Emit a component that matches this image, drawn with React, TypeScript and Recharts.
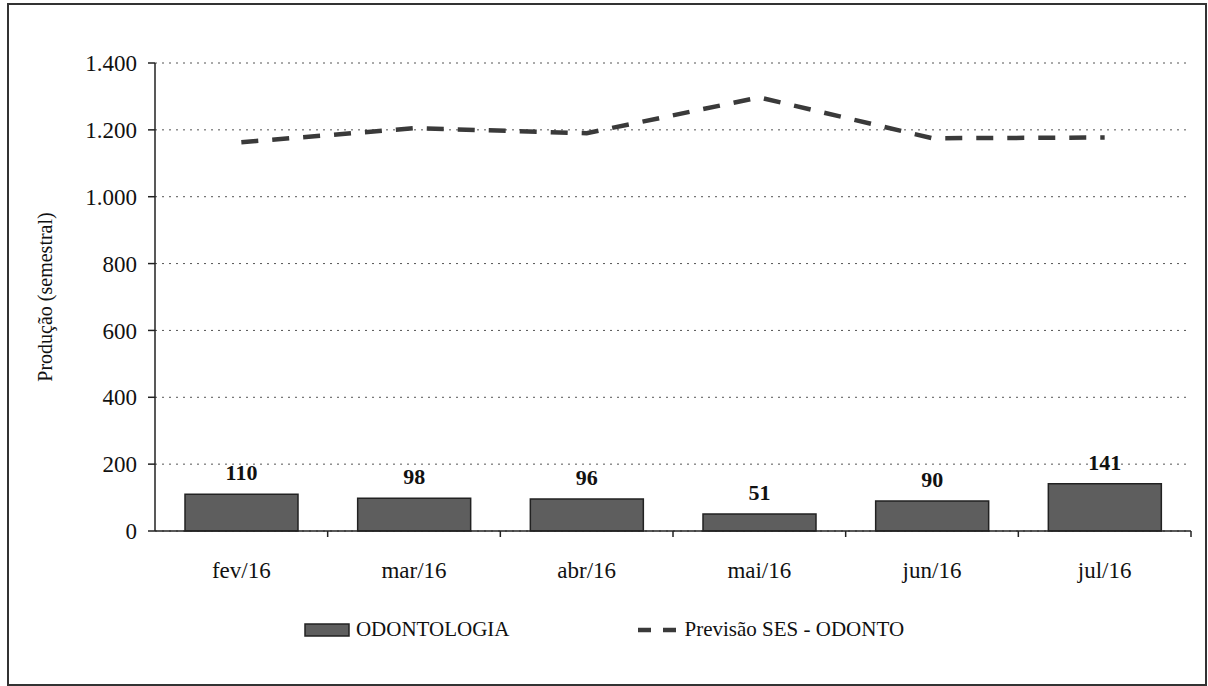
import React from 'react';
import {
  ComposedChart,
  Bar,
  Line,
  XAxis,
  YAxis,
  CartesianGrid,
  Legend,
  LabelList,
} from 'recharts';

const months = ['fev/16', 'mar/16', 'abr/16', 'mai/16', 'jun/16', 'jul/16'];
const odontologia = [110, 98, 96, 51, 90, 141];
const previsao = [1163, 1205, 1190, 1297, 1175, 1177];
const yTicks = [0, 200, 400, 600, 800, 1000, 1200, 1400];

const data = months.map((m, i) => ({
  month: m,
  odontologia: odontologia[i],
  previsao: previsao[i],
}));

const W = 1208;
const H = 686;
const margin = { top: 63, right: 17, left: 10, bottom: 115 };
const Y_AXIS_W = 145;
const BAND = (W - margin.left - Y_AXIS_W - margin.right) / months.length;
const FONT = 'Liberation Serif, Times New Roman, serif';

const fmt = (v: number) => String(v).replace(/\B(?=(\d{3})+(?!\d))/g, '.');

const XTick = (props: any) => {
  const { x, y, payload } = props;
  return (
    <g>
      <line x1={x + BAND / 2} y1={y} x2={x + BAND / 2} y2={y + 6} stroke="#222" strokeWidth={1.5} />
      <text x={x} y={y + 39} dy="0.35em" textAnchor="middle" fontFamily={FONT} fontSize={23} fill="#111">
        {payload.value}
      </text>
    </g>
  );
};

const YLabel = (props: any) => {
  const { viewBox } = props;
  const cx = viewBox.x + 35;
  const cy = viewBox.y + viewBox.height / 2;
  return (
    <text
      x={cx}
      y={cy}
      transform={`rotate(-90, ${cx}, ${cy})`}
      textAnchor="middle"
      dominantBaseline="central"
      fontFamily={FONT}
      fontSize={20}
      fill="#111"
    >
      Produção (semestral)
    </text>
  );
};

const LegendContent = () => (
  <div
    style={{
      display: 'flex',
      justifyContent: 'center',
      alignItems: 'center',
      gap: 128,
      fontFamily: FONT,
      fontSize: 21,
      color: '#111',
    }}
  >
    <div style={{ display: 'flex', alignItems: 'center' }}>
      <svg width={46} height={14} style={{ marginRight: 6 }}>
        <rect x={1} y={1} width={44} height={12} fill="#5e5e5e" stroke="#222" strokeWidth={1.5} />
      </svg>
      <span>ODONTOLOGIA</span>
    </div>
    <div style={{ display: 'flex', alignItems: 'center' }}>
      <svg width={40} height={14} style={{ marginRight: 7 }}>
        <line x1={0} y1={7} x2={40} y2={7} stroke="#3a3a3a" strokeWidth={4.5} strokeDasharray="13 12" />
      </svg>
      <span>Previsão SES - ODONTO</span>
    </div>
  </div>
);

export default function App() {
  return (
    <div style={{ position: 'absolute', left: 0, top: 0, width: W, height: H, background: '#fff', fontFamily: FONT }}>
      <div
        style={{
          position: 'absolute',
          left: 7,
          top: 3,
          width: 1200,
          height: 683,
          border: '2px solid #333',
          boxSizing: 'border-box',
        }}
      />
      <ComposedChart width={W} height={H} data={data} margin={margin} style={{ fontFamily: FONT }}>
        <CartesianGrid vertical={false} stroke="#555" strokeDasharray="2 5" />
        <XAxis
          dataKey="month"
          height={40}
          tickLine={false}
          tickSize={0}
          tickMargin={0}
          tick={<XTick />}
          axisLine={{ stroke: '#222', strokeWidth: 1.5 }}
        />
        <YAxis
          width={Y_AXIS_W}
          domain={[0, 1400]}
          ticks={yTicks}
          tickFormatter={fmt}
          tickSize={7}
          tickMargin={11}
          tick={{ fontFamily: FONT, fontSize: 23, fill: '#111' }}
          axisLine={{ stroke: '#222', strokeWidth: 1.5 }}
          tickLine={{ stroke: '#222', strokeWidth: 1.5 }}
          label={<YLabel />}
        />
        <Legend layout="horizontal" verticalAlign="middle" wrapperStyle={{ top: 617, left: 0, width: W }} content={<LegendContent />} />
        <Bar dataKey="odontologia" name="ODONTOLOGIA" barSize={113} fill="#5e5e5e" stroke="#222" strokeWidth={1.5} isAnimationActive={false}>
          <LabelList dataKey="odontologia" position="top" offset={14} fontFamily={FONT} fontSize={22} fontWeight="bold" fill="#111" />
        </Bar>
        <Line
          dataKey="previsao"
          name="Previsão SES - ODONTO"
          type="linear"
          stroke="#3a3a3a"
          strokeWidth={4.5}
          strokeDasharray="17 14"
          dot={false}
          activeDot={false}
          isAnimationActive={false}
        />
      </ComposedChart>
    </div>
  );
}
